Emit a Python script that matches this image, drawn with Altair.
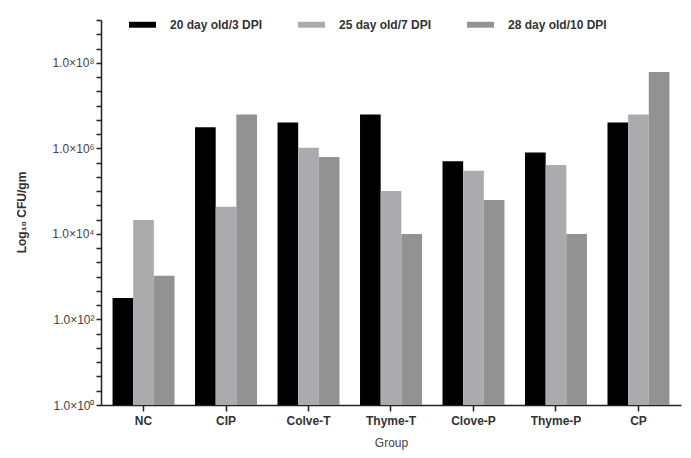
import altair as alt
import pandas as pd

groups = ["NC", "CIP", "Colve-T", "Thyme-T", "Clove-P", "Thyme-P", "CP"]
series = ["20 day old/3 DPI", "25 day old/7 DPI", "28 day old/10 DPI"]
day20 = [316, 3.1e6, 4.0e6, 6.2e6, 5.0e5, 8.0e5, 4.0e6]
day25 = [21000, 43000, 1.03e6, 1.0e5, 3.0e5, 4.1e5, 6.2e6]
day28 = [1050, 6.2e6, 6.3e5, 1.0e4, 6.2e4, 1.0e4, 6.1e7]
colors = ["#000000", "#ababaf", "#929292"]
tick_exponents = [k / 3 for k in range(28)]  # minor ticks every 1/3 decade
y_ticks = [10 ** e for e in tick_exponents]

rows = []
for s, vals in zip(series, [day20, day25, day28]):
    for g, v in zip(groups, vals):
        rows.append({"Group": g, "Series": s, "CFU": v})
df = pd.DataFrame(rows)

FONT = "Liberation Sans"
label_expr = (
    "(round(log(datum.value)/LN10*3) % 6 == 0) ? "
    "'1.0\u00d710' + ['\u2070','\u00b9','\u00b2','\u00b3','\u2074','\u2075','\u2076','\u2077','\u2078','\u2079']"
    "[round(log(datum.value)/LN10)] : ''"
)

chart = alt.Chart(df).mark_bar().encode(
    x=alt.X(
        "Group:N",
        sort=groups,
        scale=alt.Scale(paddingInner=0.249, paddingOuter=0.14),
        axis=alt.Axis(
            title="Group",
            labelAngle=0,
            labelFont=FONT,
            labelFontSize=12,
            labelFontWeight="bold",
            labelColor="#333333",
            labelPadding=4,
            tickSize=6,
            tickWidth=1.5,
            tickColor="#222222",
            domainColor="#222222",
            domainWidth=1.5,
            titleFont=FONT,
            titleFontSize=12,
            titleFontWeight="normal",
            titleColor="#444444",
            titlePadding=11,
        ),
    ),
    xOffset=alt.XOffset(
        "Series:N", sort=series, scale=alt.Scale(paddingInner=0, paddingOuter=0)
    ),
    y=alt.Y(
        "CFU:Q",
        scale=alt.Scale(type="log", domain=[1, 1e9], nice=False),
        axis=alt.Axis(
            values=y_ticks,
            labelExpr=label_expr,
            labelOverlap=False,
            labelFlush=False,
            labelFont=FONT,
            labelFontSize=12,
            labelColor="#444444",
            labelPadding=2,
            tickSize=5,
            tickWidth=1.5,
            tickColor="#222222",
            domainColor="#222222",
            domainWidth=1.5,
            grid=False,
            title="Log\u2081\u2080 CFU/gm",
            titleFont=FONT,
            titleFontSize=12,
            titleFontWeight="bold",
            titleColor="#333333",
            titleAngle=270,
            titleX=-80,
            titleY=192,
            titleAlign="center",
            titleBaseline="middle",
        ),
    ),
    y2=alt.datum(1),
    color=alt.Color(
        "Series:N",
        sort=series,
        scale=alt.Scale(domain=series, range=colors),
        legend=alt.Legend(
            title=None,
            orient="none",
            direction="horizontal",
            legendX=28,
            legendY=-9,
            symbolType="M-1,-0.22H1V0.22H-1Z",
            symbolSize=729,
            symbolStrokeWidth=0,
            symbolOpacity=1,
            labelFont=FONT,
            labelFontSize=12,
            labelFontWeight="bold",
            labelColor="#333333",
            labelOffset=14,
            columnPadding=35,
        ),
    ),
).properties(
    width=580,
    height=385,
    autosize=alt.AutoSizeParams(type="none"),
    padding={"left": 93, "top": 12, "right": 2, "bottom": 45},
).configure_view(stroke=None)

chart.save("out.html", embed_options={"renderer": "svg", "actions": False})
